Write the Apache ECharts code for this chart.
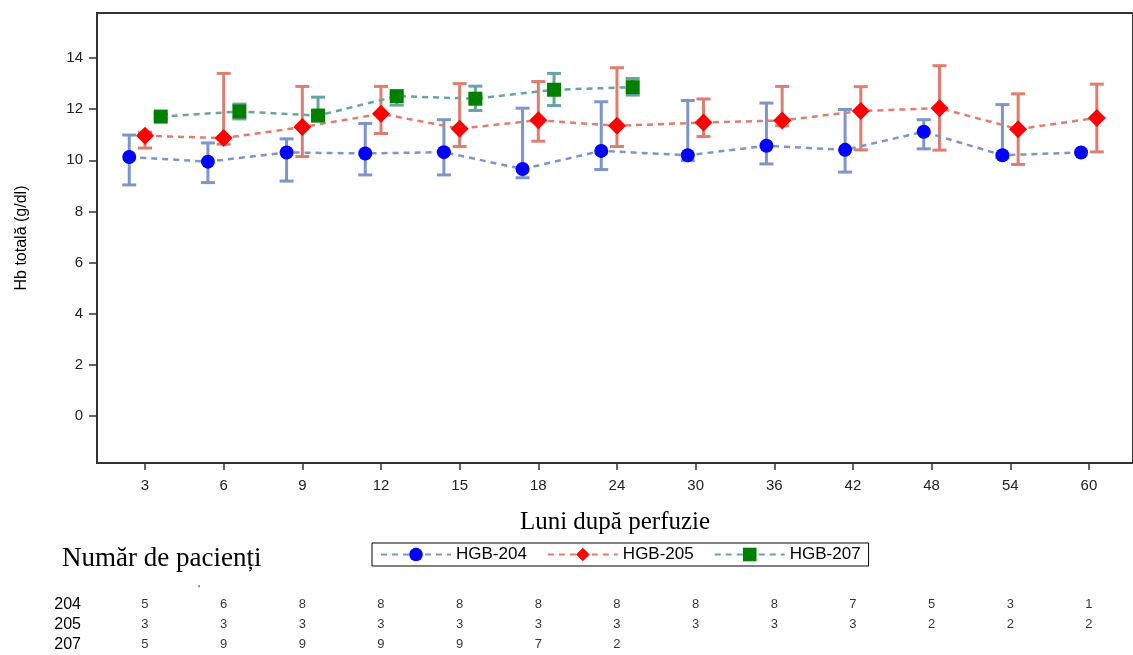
<!DOCTYPE html>
<html>
<head>
<meta charset="utf-8">
<script src="https://cdn.jsdelivr.net/npm/echarts@6/dist/echarts.min.js"></script>
<style>
  html, body { margin: 0; padding: 0; background: #fff; }
  #chart { width: 1133px; height: 655px; }
</style>
</head>
<body>
<div id="chart"></div>
<script>
const months = ['3', '6', '9', '12', '15', '18', '24', '30', '36', '42', '48', '54', '60']
const yTicks = [0, 2, 4, 6, 8, 10, 12, 14]
const rowNames = ['204', '205', '207']

// mean and error limits
const mean204 = [10.13, 9.95, 10.31, 10.27, 10.32, 9.66, 10.37, 10.2, 10.57, 10.41, 11.12, 10.2, 10.31]
const low204 = [9.04, 9.13, 9.19, 9.43, 9.43, 9.32, 9.64, 9.99, 9.86, 9.54, 10.45, 10.1, null]
const high204 = [10.99, 10.68, 10.84, 11.44, 11.59, 12.04, 12.29, 12.34, 12.24, 11.99, 11.59, 12.18, null]

const mean205 = [10.96, 10.87, 11.3, 11.82, 11.24, 11.57, 11.35, 11.48, 11.56, 11.93, 12.04, 11.22, 11.66]
const low205 = [10.48, 10.63, 10.15, 11.05, 10.54, 10.75, 10.54, 10.93, 11.35, 10.41, 10.4, 9.84, 10.33]
const high205 = [11.1, 13.4, 12.89, 12.89, 13.0, 13.08, 13.62, 12.4, 12.89, 12.88, 13.7, 12.6, 12.98]

const mean207 = [11.71, 11.91, 11.75, 12.51, 12.41, 12.76, 12.86, null, null, null, null, null, null]
const low207 = [11.62, 11.62, 11.55, 12.16, 11.95, 12.14, 12.55, null, null, null, null, null, null]
const high207 = [11.8, 12.2, 12.47, 12.6, 12.9, 13.4, 13.2, null, null, null, null, null, null]

// patient counts
const count204 = [5, 6, 8, 8, 8, 8, 8, 8, 8, 7, 5, 3, 1]
const count205 = [3, 3, 3, 3, 3, 3, 3, 3, 3, 3, 2, 2, 2]
const count207 = [5, 9, 9, 9, 9, 7, 2, null, null, null, null, null, null]

const FONT = '"Liberation Sans", Arial, sans-serif'
const SERIF = '"Liberation Serif", "Times New Roman", serif'

const groups = [
  { name: 'HGB-204', mean: mean204, low: low204, high: high204, symbol: 'circle', size: 14, color: '#0000ff', light: '#7c95ca' },
  { name: 'HGB-205', mean: mean205, low: low205, high: high205, symbol: 'diamond', size: 18, color: '#ff0000', light: '#de7e6f' },
  { name: 'HGB-207', mean: mean207, low: low207, high: high207, symbol: 'rect', size: 14, color: '#008000', light: '#66a5a0' },
]
const counts = [count204, count205, count207]

const X_MIN = -0.61
const X_MAX = 12.56

// cluster groups side by side within a category
const dodgeX = (g, i) => {
  const present = groups.map((_, k) => k).filter((k) => groups[k].mean[i] != null)
  const pos = present.indexOf(g)
  return i + (pos - (present.length - 1) / 2) * 0.2
}

const errorSeries = (group, g) => ({
  type: 'custom',
  name: 'err-' + group.name,
  xAxisIndex: 0,
  yAxisIndex: 0,
  z: 2,
  encode: { x: 0, y: [1, 2] },
  data: group.mean
    .map((v, i) => (v == null || group.low[i] == null ? null : [dodgeX(g, i), group.low[i], group.high[i]]))
    .filter((d) => d),
  renderItem(params, api) {
    const x = api.value(0)
    const top = api.coord([x, api.value(2)])
    const bot = api.coord([x, api.value(1)])
    const w = 7
    const style = { stroke: group.light, lineWidth: 3 }
    return {
      type: 'group',
      children: [
        { type: 'line', shape: { x1: top[0], y1: top[1], x2: bot[0], y2: bot[1] }, style },
        { type: 'line', shape: { x1: top[0] - w, y1: top[1], x2: top[0] + w, y2: top[1] }, style },
        { type: 'line', shape: { x1: bot[0] - w, y1: bot[1], x2: bot[0] + w, y2: bot[1] }, style },
      ],
    }
  },
})

const lineSeries = (group, g) => ({
  type: 'line',
  name: group.name,
  xAxisIndex: 0,
  yAxisIndex: 0,
  z: 3,
  symbol: group.symbol,
  symbolSize: group.size,
  itemStyle: { color: group.color },
  lineStyle: { color: group.light, width: 2.5, type: [6, 5] },
  data: group.mean.map((v, i) => (v == null ? null : [dodgeX(g, i), v])).filter((d) => d),
})

const countSeries = (arr, r) => ({
  type: 'scatter',
  xAxisIndex: 1,
  yAxisIndex: 1,
  symbolSize: 1,
  itemStyle: { color: 'transparent' },
  label: {
    show: true,
    position: 'inside',
    color: '#000',
    fontSize: 13,
    fontFamily: FONT,
    formatter: (p) => p.value[2],
  },
  data: arr.map((c, i) => (c == null ? null : [i, rowNames[r], c])).filter((d) => d),
})

const option = {
  animation: false,
  textStyle: { fontFamily: FONT },
  grid: [
    { left: 97, top: 13, right: -5, bottom: 192, show: true, borderColor: '#333', borderWidth: 2 },
    { left: 97, top: 594, right: -5, height: 63 },
  ],
  legend: {
    left: 372,
    top: 543,
    data: groups.map((g) => g.name),
    itemWidth: 70,
    itemHeight: 17,
    itemGap: 20,
    padding: [3, 8],
    borderColor: '#000',
    borderWidth: 1,
    textStyle: { fontSize: 17, color: '#000', fontFamily: FONT },
  },
  xAxis: [
    {
      type: 'value',
      gridIndex: 0,
      min: X_MIN,
      max: X_MAX,
      name: 'Luni după perfuzie',
      nameLocation: 'middle',
      nameGap: 47,
      nameTextStyle: { fontFamily: SERIF, fontSize: 25, color: '#000' },
      axisLine: { show: true, onZero: false, lineStyle: { color: '#333', width: 2 } },
      splitLine: { show: false },
      axisTick: { customValues: months.map((_, i) => i), length: 7, lineStyle: { color: '#333', width: 1.5 } },
      axisLabel: {
        customValues: months.map((_, i) => i),
        formatter: (v) => months[Math.round(v)],
        margin: 15,
        fontSize: 15,
        color: '#222',
      },
    },
    { type: 'value', gridIndex: 1, min: X_MIN, max: X_MAX, show: false },
  ],
  yAxis: [
    {
      type: 'value',
      gridIndex: 0,
      min: -1.83,
      max: 15.76,
      name: 'Hb totală (g/dl)',
      nameLocation: 'middle',
      nameRotate: 90,
      nameGap: 67,
      nameTextStyle: { fontSize: 16, color: '#000' },
      axisLine: { show: true, onZero: false, lineStyle: { color: '#333', width: 2 } },
      splitLine: { show: false },
      axisTick: { customValues: yTicks, length: 8, lineStyle: { color: '#333', width: 1.5 } },
      axisLabel: { customValues: yTicks, margin: 14, fontSize: 15, color: '#222' },
    },
    {
      type: 'category',
      gridIndex: 1,
      data: rowNames,
      inverse: true,
      axisLine: { show: false },
      axisTick: { show: false },
      splitLine: { show: false },
      axisLabel: { interval: 0, margin: 16, fontSize: 16, color: '#000' },
    },
  ],
  graphic: [
    {
      type: 'text',
      left: 62,
      top: 545,
      style: { text: 'Număr de pacienți', font: '27px ' + SERIF, fill: '#000' },
    },
    {
      type: 'text',
      left: 198,
      top: 584,
      style: { text: "'", font: '11px ' + FONT, fill: '#333' },
    },
  ],
  series: [
    ...groups.map(errorSeries),
    ...groups.map(lineSeries),
    ...counts.map(countSeries),
  ],
}

const chart = echarts.init(document.getElementById('chart'))
chart.setOption(option)
</script>
</body>
</html>
